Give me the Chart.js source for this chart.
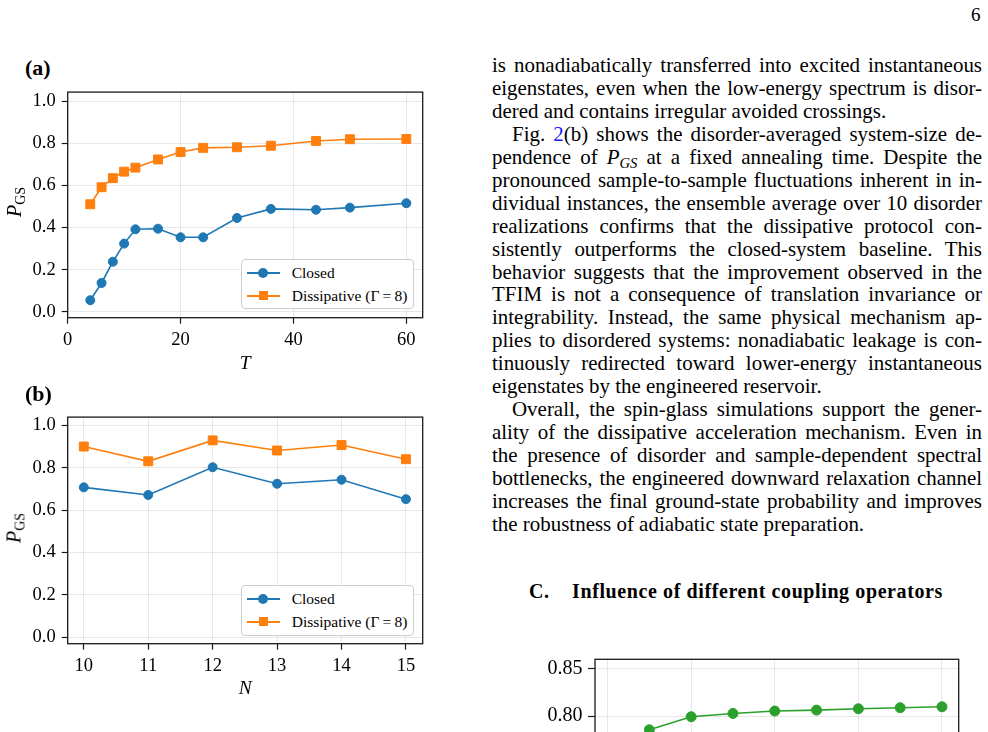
<!DOCTYPE html>
<html>
<head>
<meta charset="utf-8">
<script src="https://cdn.jsdelivr.net/npm/chart.js@4.4.0/dist/chart.umd.min.js"></script>
<style>
  html, body { margin: 0; padding: 0; background: #fff; }
  body { width: 988px; height: 732px; overflow: hidden; position: relative;
         font-family: "Liberation Serif", "Times New Roman", serif; color: #000; }
  .box { position: absolute; }
  .panel-tag { position: absolute; font-weight: bold; font-size: 22px; line-height: 22px; }
  .ylab { position: absolute; font-size: 20px; white-space: nowrap; line-height: 20px;
          transform: translate(-50%, -50%) rotate(-90deg); }
  .ylab .sub { font-size: 14px; position: relative; top: 4px; }
  .legend { position: absolute; background: #fff; border: 1px solid #cccccc; border-radius: 4px;
            box-sizing: border-box; font-size: 15.5px; }
  .legend .row { position: absolute; left: 0; height: 20px; line-height: 20px; white-space: nowrap; }
  .legend .hl { position: absolute; left: 5px; top: 9px; width: 33px; height: 1.6px; }
  .legend .mk { position: absolute; }
  .legend .txt { position: absolute; left: 50px; top: 0; }
  .col { position: absolute; left: 492px; width: 490px; font-size: 19px; }
  .col .ln { height: 22.97px; line-height: 22.97px; text-align: justify; text-align-last: justify; white-space: nowrap; }
  .col .ln.last { text-align-last: left; }
  .col .ln.ind { padding-left: 20px; }
  .col a { color: #1a1aff; text-decoration: none; }
  .col sub { font-size: 0.7em; line-height: 0; vertical-align: -4px; }
  .pageno { position: absolute; left: 971px; top: 4px; font-size: 19px; }
  .head { position: absolute; left: 529px; top: 580px; font-size: 20px; font-weight: bold; letter-spacing: 0.6px; white-space: nowrap; }
</style>
</head>
<body>

<div class="pageno">6</div>

<div class="panel-tag" style="left:25px; top:57px;">(a)</div>
<div class="box" style="left:0; top:75px; width:440px; height:310px;"><canvas id="chartA"></canvas></div>
<div class="ylab" style="left:15px; top:202px;"><i>P</i><span class="sub">GS</span></div>
<div class="legend" id="legendA" style="left:240.7px; top:259.3px; width:173.5px; height:50px;"></div>

<div class="panel-tag" style="left:25px; top:383px;">(b)</div>
<div class="box" style="left:0; top:400px; width:440px; height:310px;"><canvas id="chartB"></canvas></div>
<div class="ylab" style="left:15px; top:528px;"><i>P</i><span class="sub">GS</span></div>
<div class="legend" id="legendB" style="left:240.7px; top:585px; width:173.5px; height:50.5px;"></div>

<div class="col" id="textCol" style="top:53.8px;"></div>

<div class="head">C.&nbsp;&nbsp;&nbsp;&nbsp;Influence of different coupling operators</div>

<div class="box" style="left:480px; top:640px; width:490px; height:230px;"><canvas id="chartC"></canvas></div>

<script>
// panel (a): ground-state probability vs annealing time T
const timesT = [4, 6, 8, 10, 12, 16, 20, 24, 30, 36, 44, 50, 60];
const closedByT = [0.055, 0.137, 0.238, 0.324, 0.392, 0.395, 0.354, 0.354, 0.446, 0.489, 0.485, 0.495, 0.516];
const dissipByT = [0.511, 0.592, 0.635, 0.666, 0.685, 0.724, 0.759, 0.779, 0.782, 0.789, 0.812, 0.820, 0.821];

// panel (b): ground-state probability vs system size N
const sizesN = [10, 11, 12, 13, 14, 15];
const closedByN = [0.708, 0.672, 0.803, 0.725, 0.744, 0.652];
const dissipByN = [0.901, 0.831, 0.930, 0.882, 0.908, 0.841];

// next figure, only its top is on this page
const couplingX = [1, 2, 3, 4, 5, 6, 7, 8];
const couplingY = [0.7855, 0.7993, 0.8028, 0.8053, 0.8063, 0.8077, 0.8088, 0.8098];

const seriesLabels = ['Closed', 'Dissipative (\u0393\u2009=\u20098)'];

const BLUE = '#1f77b4', ORANGE = '#ff7f0e', GREEN = '#2ca02c';
const GRID = 'rgba(176,176,176,0.32)';

Chart.defaults.font.family = '"Liberation Serif", "Times New Roman", serif';
Chart.defaults.color = '#000';

const framePlugin = {
  id: 'frame',
  afterDraw(chart) {
    const { ctx, chartArea: a } = chart;
    ctx.save();
    ctx.strokeStyle = '#1a1a1a';
    ctx.lineWidth = 1.3;
    ctx.strokeRect(a.left, a.top, a.right - a.left, a.bottom - a.top);
    ctx.restore();
  }
};

function pts(xs, ys) {
  return xs.map((x, i) => ({ x: x, y: ys[i] }));
}

function series(label, xs, ys, color, style, r) {
  return {
    label: label,
    data: pts(xs, ys),
    borderColor: color,
    backgroundColor: color,
    borderWidth: 1.6,
    pointStyle: style,
    pointRadius: r,
    pointBorderWidth: 1,
    tension: 0
  };
}

function makePanel(id, datasets, x, y, pad) {
  return new Chart(document.getElementById(id), {
    type: 'line',
    data: { datasets: datasets },
    options: {
      responsive: true,
      maintainAspectRatio: false,
      animation: false,
      devicePixelRatio: 1,
      layout: { padding: pad },
      plugins: { legend: { display: false }, tooltip: { enabled: false } },
      scales: {
        x: {
          type: 'linear', min: x.min, max: x.max,
          afterFit: s => { s.height = x.h; },
          border: { display: false },
          grid: { color: GRID, lineWidth: 0.9, tickColor: '#1a1a1a', tickLength: 6, tickWidth: 1.2 },
          ticks: { stepSize: x.step, includeBounds: false, padding: 5, font: { size: x.font }, maxRotation: 0 },
          title: x.title ? { display: true, text: x.title, font: { size: 19.5, style: 'italic' }, padding: { top: 0, bottom: 9.6 } } : { display: false }
        },
        y: {
          min: y.min, max: y.max,
          afterFit: s => { s.width = y.w; },
          border: { display: false },
          grid: { color: GRID, lineWidth: 0.9, tickColor: '#1a1a1a', tickLength: y.tl, tickWidth: 1.2 },
          ticks: { stepSize: y.step, includeBounds: false, padding: y.pad, font: { size: y.font },
                   callback: v => v.toFixed(y.dec) }
        }
      }
    },
    plugins: [framePlugin]
  });
}

makePanel('chartA', [
  series(seriesLabels[0], timesT, closedByT, BLUE, 'circle', 4.5),
  series(seriesLabels[1], timesT, dissipByT, ORANGE, 'rect', 6.3)
], { min: 0, max: 62.9, step: 20, h: 67.3, font: 18.5, title: 'T' },
   { min: -0.028, max: 1.044, step: 0.2, w: 67.7, tl: 6, pad: 6, font: 18.5, dec: 1 },
   { top: 8.7, right: 17.3, left: 0, bottom: 0 });

makePanel('chartB', [
  series(seriesLabels[0], sizesN, closedByN, BLUE, 'circle', 4.5),
  series(seriesLabels[1], sizesN, dissipByN, ORANGE, 'rect', 6.3)
], { min: 9.75, max: 15.26, step: 1, h: 66.3, font: 18.5, title: 'N' },
   { min: -0.031, max: 1.04, step: 0.2, w: 67.7, tl: 6, pad: 6, font: 18.5, dec: 1 },
   { top: 10, right: 17.3, left: 0, bottom: 0 });

makePanel('chartC', [
  series('coupling', couplingX, couplingY, GREEN, 'circle', 5)
], { min: -0.3, max: 8.4, step: 2, h: 59.3, font: 20, title: '' },
   { min: 0.70, max: 0.86, step: 0.05, w: 115, tl: 7, pad: 5.5, font: 20, dec: 2 },
   { top: 19.3, right: 11.3, left: 0, bottom: 0 });

// html legends inside the axes
function fillLegend(id) {
  const el = document.getElementById(id);
  const marks = [
    { color: BLUE, css: 'left:16.5px; top:5px; width:10px; height:10px; border-radius:50%;' },
    { color: ORANGE, css: 'left:17px; top:5px; width:9px; height:9px;' }
  ];
  seriesLabels.forEach((lab, i) => {
    const row = document.createElement('div');
    row.className = 'row';
    row.style.top = (i === 0 ? 3 : 26) + 'px';
    row.style.width = '100%';
    row.innerHTML = '<span class="hl" style="background:' + marks[i].color + '"></span>' +
      '<span class="mk" style="background:' + marks[i].color + ';' + marks[i].css + '"></span>' +
      '<span class="txt">' + lab + '</span>';
    el.appendChild(row);
  });
}
fillLegend('legendA');
fillLegend('legendB');

// right-hand text column, one entry per printed line
const textLines = [
  ['is nonadiabatically transferred into excited instantaneous', ''],
  ['eigenstates, even when the low-energy spectrum is disor-', ''],
  ['dered and contains irregular avoided crossings.', 'last'],
  ['Fig. <a>2</a>(b) shows the disorder-averaged system-size de-', 'ind'],
  ['pendence of <i>P</i><sub><i>GS</i></sub> at a fixed annealing time. Despite the', ''],
  ['pronounced sample-to-sample fluctuations inherent in in-', ''],
  ['dividual instances, the ensemble average over 10 disorder', ''],
  ['realizations confirms that the dissipative protocol con-', ''],
  ['sistently outperforms the closed-system baseline. This', ''],
  ['behavior suggests that the improvement observed in the', ''],
  ['TFIM is not a consequence of translation invariance or', ''],
  ['integrability. Instead, the same physical mechanism ap-', ''],
  ['plies to disordered systems: nonadiabatic leakage is con-', ''],
  ['tinuously redirected toward lower-energy instantaneous', ''],
  ['eigenstates by the engineered reservoir.', 'last'],
  ['Overall, the spin-glass simulations support the gener-', 'ind'],
  ['ality of the dissipative acceleration mechanism. Even in', ''],
  ['the presence of disorder and sample-dependent spectral', ''],
  ['bottlenecks, the engineered downward relaxation channel', ''],
  ['increases the final ground-state probability and improves', ''],
  ['the robustness of adiabatic state preparation.', 'last']
];

// pick a font size so the widest printed line just fits the column
const meas = document.createElement('canvas').getContext('2d');
meas.font = '19px "Liberation Serif"';
let widest = 0;
textLines.forEach(([html, kind]) => {
  const plain = html.replace(/<[^>]+>/g, '');
  const w = meas.measureText(plain).width + (kind === 'ind' ? 20 : 0);
  if (kind !== 'last') widest = Math.max(widest, w);
});
const colSize = Math.min(22, 19 * 484 / widest);

const col = document.getElementById('textCol');
col.style.fontSize = colSize.toFixed(2) + 'px';
textLines.forEach(([html, kind]) => {
  const d = document.createElement('div');
  d.className = 'ln' + (kind ? ' ' + kind : '');
  d.innerHTML = html;
  col.appendChild(d);
});
</script>
</body>
</html>
